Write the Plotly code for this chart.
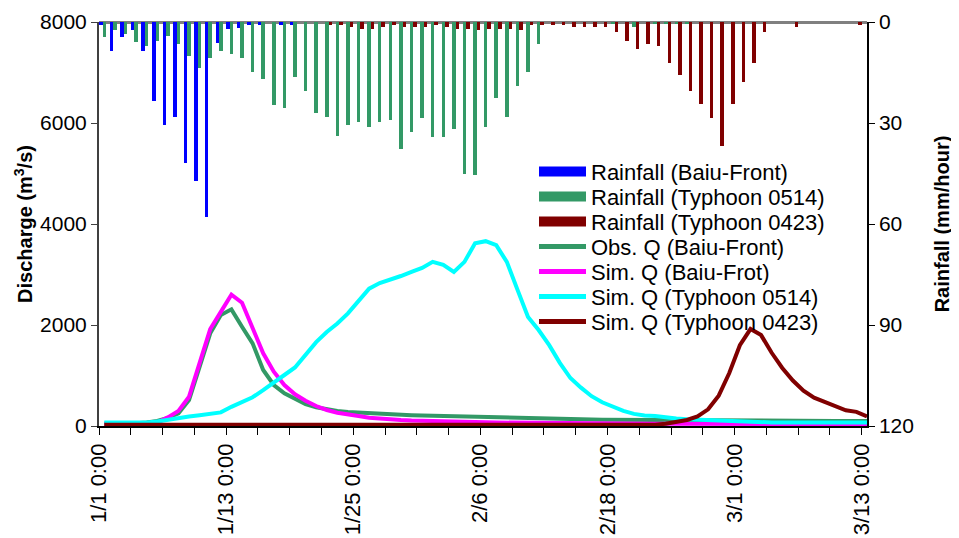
import plotly.graph_objects as go

# ---------------- data ----------------
day_index = list(range(73))          # 1/1 ... 3/13, daily
tick_days = [0, 12, 24, 36, 48, 60, 72]
tick_labels = ["1/1 0:00", "1/13 0:00", "1/25 0:00", "2/6 0:00",
               "2/18 0:00", "3/1 0:00", "3/13 0:00"]

rain_baiu = [1.0, 8.5, 4.4, 2.4, 8.5, 23.4, 30.6, 28.1, 41.8, 47.1,
             57.8, 6.3, 2.2, 1.9, 0.8, 0.8, 0.0, 0.8, 0.8, 0.0,
             0, 0, 0, 0, 0, 0, 0, 0, 0, 0,
             0, 0, 0, 0, 0, 0, 0, 0, 0, 0,
             0, 0, 0, 0, 0, 0, 0, 0, 0, 0,
             0, 0, 0, 0, 0, 0, 0, 0, 0, 0,
             0, 0, 0, 0, 0, 0, 0, 0, 0, 0,
             0, 0, 0]

rain_0514 = [4.4, 2.4, 3.6, 5.8, 7.0, 5.5, 4.1, 6.4, 10.0, 13.6,
             10.6, 8.5, 9.4, 10.6, 14.8, 16.8, 24.6, 25.4, 16.2, 20.4,
             26.9, 28.1, 33.8, 30.5, 29.6, 31.1, 29.6, 29.0, 37.6, 32.6,
             28.4, 34.1, 34.1, 31.7, 45.1, 45.4, 31.1, 22.5, 28.1, 18.9,
             14.8, 6.4, 0, 0, 0, 0, 0, 0, 0.5, 0,
             1.4, 0, 0.6, 0.6, 0.6, 0.5, 0, 0, 0, 0,
             0, 0, 0, 0, 0, 0, 0, 0, 0, 0,
             0, 0, 0]

rain_0423 = [0, 0, 0, 0, 0, 0, 0, 0, 0, 0,
             0, 0, 0, 0, 0, 0, 0, 0, 0, 0,
             0, 0.8, 0.8, 1.4, 2.0, 2.0, 1.4, 0.8, 1.4, 1.4,
             1.4, 0.8, 1.4, 2.0, 2.0, 2.3, 2.0, 2.0, 2.0, 2.3,
             0.8, 0.8, 0.8, 0.8, 1.4, 1.4, 1.4, 1.4, 2.9, 5.5,
             8.0, 6.4, 7.0, 12.1, 15.7, 20.4, 24.4, 28.4, 36.7, 24.4,
             17.7, 12.1, 2.9, 0, 0, 1.4, 0, 0, 0, 0,
             0, 0.8, 0]

obs_q_baiu = [50, 50, 50, 55, 70, 100, 160, 250, 515, 1175,
              1835, 2200, 2310, 1966, 1637, 1109, 812, 647, 548, 435,
              370, 330, 297, 277, 264, 251, 238, 230, 222, 215,
              208, 202, 196, 190, 185, 180, 172, 165, 158, 152,
              146, 141, 137, 134, 131, 129, 127, 125, 123, 121,
              119, 117, 115, 113, 111, 110, 109, 108, 107, 106,
              105, 104, 103, 102, 101, 100, 100, 100, 100, 100,
              100, 100, 100]

sim_q_baiu = [40, 40, 40, 45, 55, 70, 170, 300, 580, 1250,
              1920, 2260, 2600, 2440, 1935, 1440, 1075, 812, 628, 500,
              396, 317, 264, 224, 198, 165, 145, 130, 120, 110,
              102, 96, 90, 85, 80, 76, 72, 69, 66, 63,
              60, 58, 56, 54, 52, 50, 49, 48, 47, 46,
              45, 45, 44, 44, 43, 43, 42, 42, 42, 41,
              41, 41, 40, 40, 40, 40, 40, 40, 40, 40,
              40, 40, 40]

sim_q_0514 = [70, 65, 60, 62, 70, 90, 130, 160, 190, 215,
              240, 270, 380, 480, 570, 710, 870, 1010, 1160, 1400,
              1660, 1860, 2030, 2230, 2490, 2720, 2830, 2890, 2970, 3050,
              3130, 3250, 3190, 3050, 3250, 3620, 3660, 3580, 3250, 2700,
              2160, 1900, 1600, 1250, 950, 760, 590, 470, 380, 300,
              240, 210, 200, 170, 150, 135, 125, 120, 115, 110,
              90, 75, 72, 70, 70, 70, 70, 70, 70, 70,
              70, 70, 70]

sim_q_0423 = [25, 25, 25, 25, 25, 25, 25, 25, 25, 25,
              25, 25, 25, 25, 25, 25, 25, 25, 25, 25,
              25, 25, 8, 8, 8, 8, 8, 8, 8, 8,
              8, 8, 8, 8, 8, 8, 8, 8, 8, 8,
              8, 8, 8, 8, 8, 8, 8, 8, 8, 8,
              8, 15, 25, 45, 75, 120, 190, 330, 600, 1050,
              1600, 1920, 1800, 1450, 1150, 900, 700, 560, 480, 390,
              310, 280, 190]

# ---------------- styling ----------------
BLUE = "#0000FF"
SEA = "#339966"
MAROON = "#800000"
MAGENTA = "#FF00FF"
CYAN = "#00FFFF"
FONT = "Liberation Sans, Arial, sans-serif"

# page body has an 8px default margin; size the figure so the plot lands in place
W, H = 951, 530
ML, MT, MR, MB = 91, 14, 92, 112
PLOT_W = W - ML - MR
PLOT_H = H - MT - MB

x = [d + 0.5 for d in day_index]

fig = go.Figure()

bar_series = [("Rainfall (Baiu-Front)", rain_baiu, BLUE),
              ("Rainfall (Typhoon 0514)", rain_0514, SEA),
              ("Rainfall (Typhoon 0423)", rain_0423, MAROON)]
for name, vals, col in bar_series:
    fig.add_trace(go.Bar(x=x, y=vals, name=name, marker=dict(color=col, line=dict(width=0)),
                         yaxis="y2", showlegend=False))

line_series = [("Obs. Q (Baiu-Front)", obs_q_baiu, SEA),
               ("Sim. Q (Baiu-Frot)", sim_q_baiu, MAGENTA),
               ("Sim. Q (Typhoon 0514)", sim_q_0514, CYAN),
               ("Sim. Q (Typhoon 0423)", sim_q_0423, MAROON)]
for name, vals, col in line_series:
    fig.add_trace(go.Scatter(x=x, y=vals, name=name, mode="lines",
                             line=dict(color=col, width=4), showlegend=False))

# legend entries (one legend per row so the row spacing matches)
legend_items = [(n, c, 12) for n, _, c in bar_series] + [(n, c, 5) for n, _, c in line_series]
layout_legends = {}
row0 = 171.7 - 8          # figure coordinates
for i, (name, col, w) in enumerate(legend_items):
    key = "legend" if i == 0 else f"legend{i + 1}"
    fig.add_trace(go.Scatter(x=[None], y=[None], name=name, mode="lines",
                             line=dict(color=col, width=w), legend=key, showlegend=True))
    yc = row0 + 25 * i
    layout_legends[key] = dict(x=(534 - 8 - ML) / PLOT_W, xanchor="left",
                               y=(MT + PLOT_H - yc) / PLOT_H, yanchor="middle",
                               bgcolor="rgba(0,0,0,0)", borderwidth=0,
                               font=dict(family=FONT, size=22, color="black"),
                               itemwidth=47, itemclick=False, itemdoubleclick=False)

fig.update_layout(
    width=W, height=H,
    margin=dict(l=ML, r=MR, t=MT, b=MB, autoexpand=False),
    paper_bgcolor="white", plot_bgcolor="white",
    font=dict(family=FONT, size=21, color="black"),
    barmode="group", bargap=0, bargroupgap=0,
    showlegend=True,
    xaxis=dict(range=[0, 72.5], tickvals=tick_days, ticktext=tick_labels,
               tickangle=-90, ticks="outside", ticklen=7, tickcolor="black",
               showline=True, linecolor="black", linewidth=1.5,
               showgrid=False, zeroline=False, automargin=False,
               tickfont=dict(family=FONT, size=22, color="black"),
               minor=dict(dtick=3, tick0=0, ticks="outside", ticklen=7, tickcolor="black")),
    yaxis=dict(range=[0, 8000], tickvals=[0, 2000, 4000, 6000, 8000],
               ticks="outside", ticklen=6, tickcolor="#404040",
               showline=True, linecolor="#404040", linewidth=2,
               showgrid=False, zeroline=False, automargin=False,
               tickfont=dict(family=FONT, size=21, color="black"),
               title=dict(text="Discharge (m<sup>3</sup>/s)", standoff=2,
                          font=dict(family=FONT, size=20, color="black", weight="bold"))),
    yaxis2=dict(range=[120, 0], tickvals=[0, 30, 60, 90, 120],
                overlaying="y", side="right", anchor="x",
                ticks="outside", ticklen=6, tickcolor="black",
                showline=True, linecolor="black", linewidth=1.5,
                showgrid=False, zeroline=True, zerolinecolor="#808080", zerolinewidth=2.5,
                automargin=False,
                tickfont=dict(family=FONT, size=21, color="black"),
                title=dict(text="Rainfall (mm/hour)", standoff=22,
                           font=dict(family=FONT, size=20, color="black", weight="bold"))),
    **layout_legends,
)

fig.write_html("out.html")
